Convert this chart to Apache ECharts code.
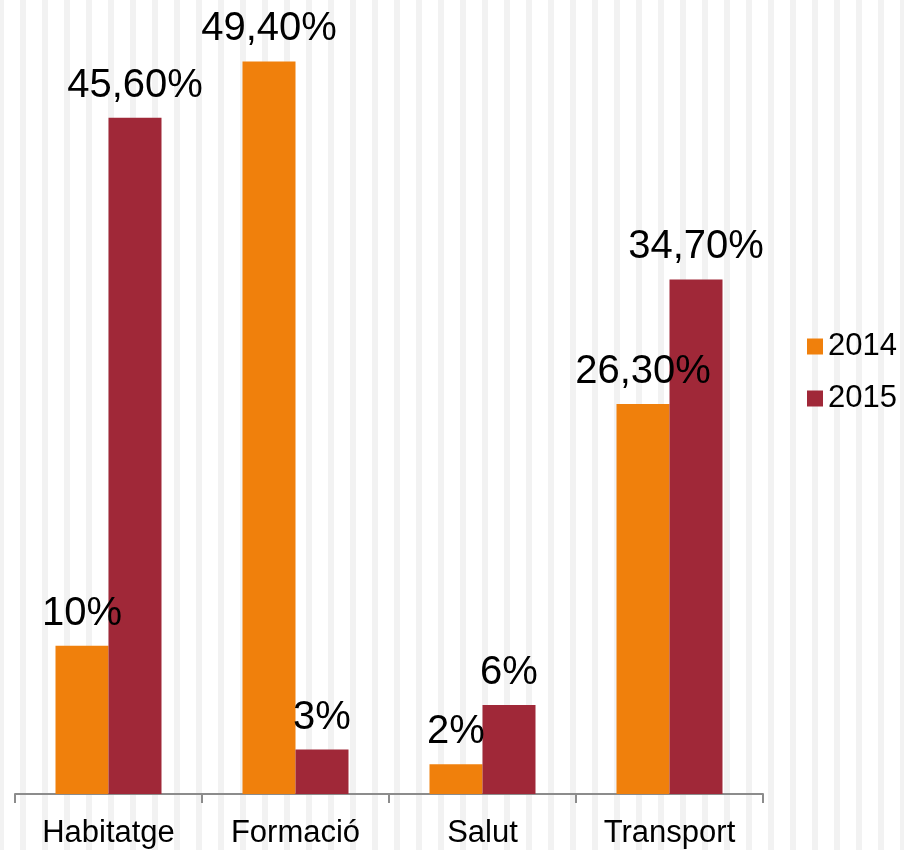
<!DOCTYPE html>
<html>
<head>
<meta charset="utf-8">
<script src="https://cdn.jsdelivr.net/npm/echarts@6/dist/echarts.min.js"></script>
<style>
  html, body { margin: 0; padding: 0; background: #fff; }
  #chart {
    width: 904px; height: 850px;
    background-color: #fff;
    background-image: linear-gradient(to right, #f2f2f2 0px, #f2f2f2 6px, #ffffff 6px, #ffffff 22px);
    background-size: 22px 100%;
    background-position: -2px 0;
  }
</style>
</head>
<body>
<div id="chart"></div>
<script>
const categories = ["Habitatge", "Formació", "Salut", "Transport"];
const seriesNames = ["2014", "2015"];
const values2014 = [10, 49.4, 2, 26.3];
const values2015 = [45.6, 3, 6, 34.7];
const colors = ["#F0800C", "#A02838"];

function fmt(p) {
  const v = p.value;
  if (Number.isInteger(v)) return v + "%";
  return v.toFixed(2).replace(".", ",") + "%";
}

const labelStyle = {
  show: true, position: "top", distance: 12,
  formatter: fmt, color: "#000",
  fontFamily: "Liberation Sans, Arial, sans-serif", fontSize: 40
};

const chart = echarts.init(document.getElementById("chart"), null, { renderer: "canvas" });
chart.setOption({
  backgroundColor: "transparent",
  animation: false,
  grid: { left: 15, right: 141, top: 52.5, bottom: 56, containLabel: false },
  legend: {
    orient: "vertical", left: 807, top: 331, padding: 0,
    itemWidth: 16, itemHeight: 16, itemGap: 21, icon: "rect",
    textStyle: { color: "#000", fontSize: 31, fontFamily: "Liberation Sans, Arial, sans-serif" },
    data: seriesNames
  },
  xAxis: {
    type: "category", data: categories,
    axisLine: { lineStyle: { color: "#8c8c8c", width: 2 } },
    axisTick: { show: true, length: 9, lineStyle: { color: "#8c8c8c", width: 2 } },
    axisLabel: { color: "#000", fontSize: 31, margin: 24, fontFamily: "Liberation Sans, Arial, sans-serif" },
    splitLine: { show: false }
  },
  yAxis: {
    type: "value", min: 0, max: 50, show: false,
    splitLine: { show: false }
  },
  series: [
    { name: seriesNames[0], type: "bar", data: values2014, barWidth: 53, barGap: "0%",
      itemStyle: { color: colors[0] }, label: labelStyle },
    { name: seriesNames[1], type: "bar", data: values2015, barWidth: 53, barGap: "0%",
      itemStyle: { color: colors[1] }, label: labelStyle }
  ]
});
</script>
</body>
</html>
